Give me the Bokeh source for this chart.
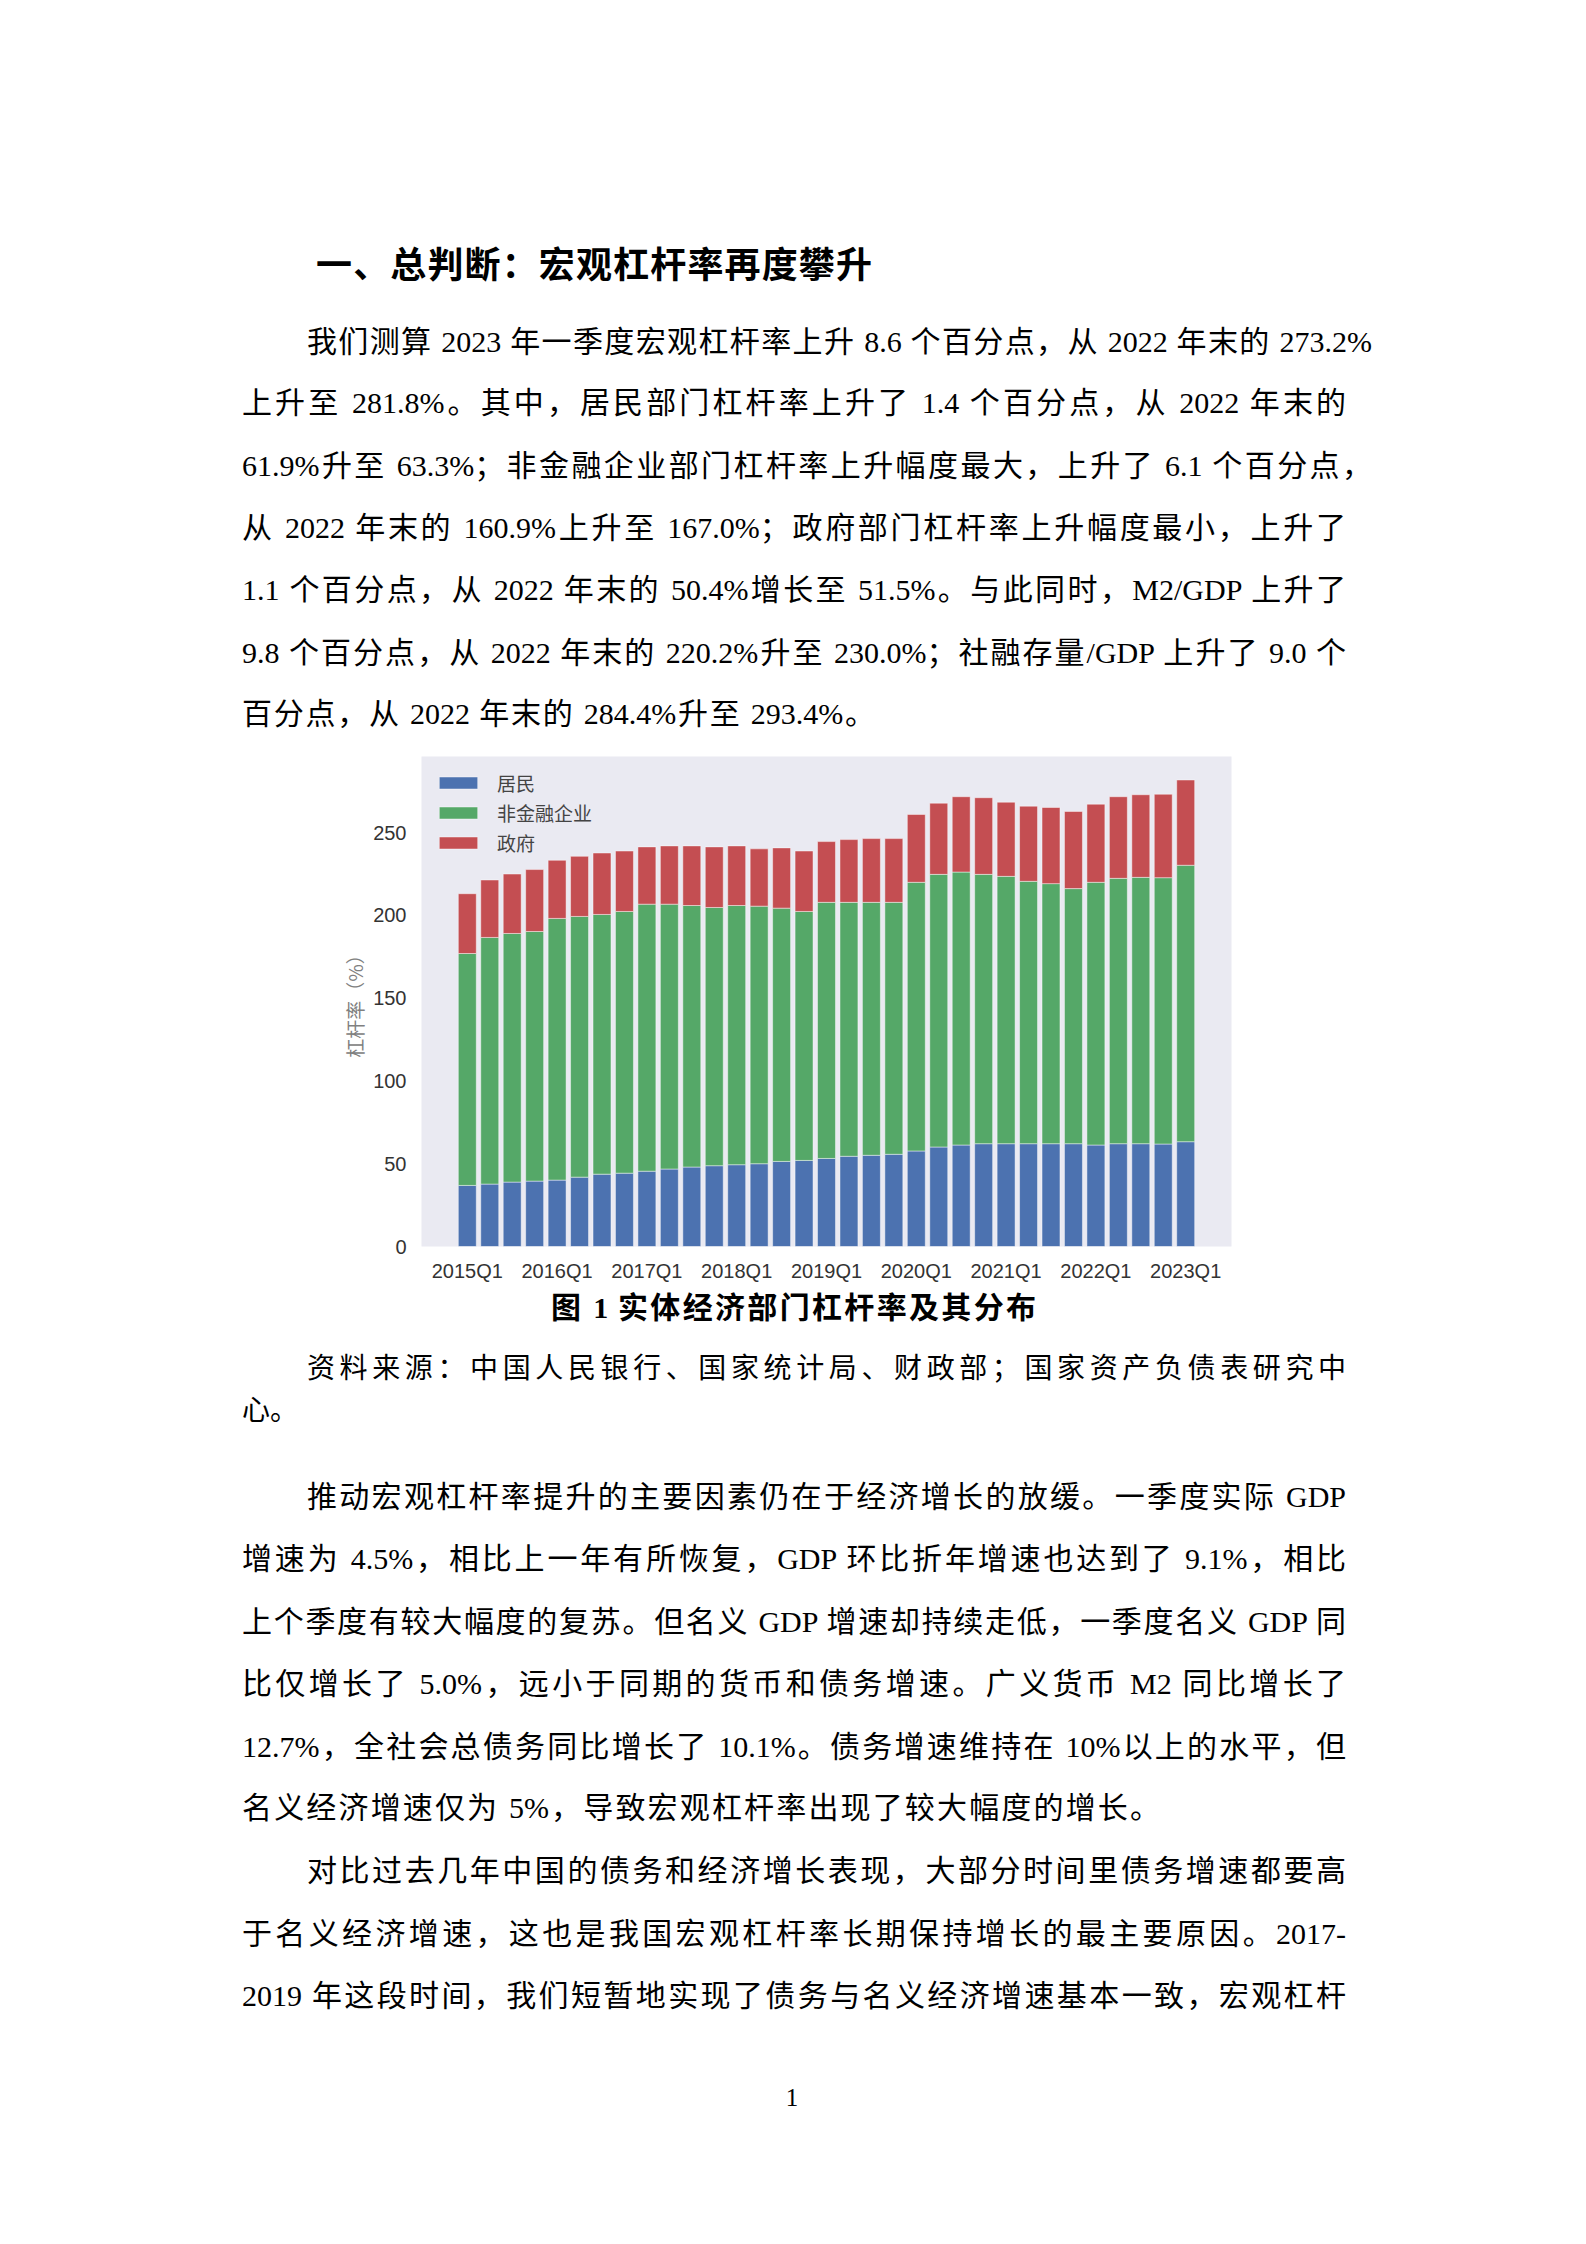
from bokeh.plotting import figure
from bokeh.models import ColumnDataSource, Range1d, FixedTicker, Div
from bokeh.layouts import column
from bokeh.embed import file_html
from bokeh.resources import INLINE

# ---------------- data ----------------
quarters = [f"{y}Q{q}" for y in range(2015, 2023) for q in range(1, 5)] + ["2023Q1"]
household = [36.9, 37.7, 38.9, 39.5, 40.1, 41.9, 43.7, 44.3, 45.5, 46.8, 48.0, 48.8,
             49.4, 50.0, 51.4, 52.0, 53.2, 54.5, 55.1, 55.7, 57.7, 60.1, 61.3, 62.1,
             62.1, 62.1, 62.1, 62.1, 61.3, 62.1, 62.1, 61.9, 63.3]
corporate = [140.1, 149.0, 150.2, 150.8, 158.1, 157.5, 156.9, 158.1, 161.3, 160.0, 158.0, 156.0,
             156.6, 155.6, 153.0, 150.4, 154.7, 153.4, 152.8, 152.2, 162.3, 164.7, 164.9, 162.7,
             161.5, 158.5, 157.1, 154.1, 158.7, 160.3, 160.9, 160.9, 167.0]
government = [36.1, 34.7, 35.9, 37.4, 35.1, 36.3, 37.1, 36.5, 34.6, 35.2, 36.0, 36.6,
              36.0, 34.6, 36.4, 36.5, 36.7, 37.9, 38.5, 38.5, 41.0, 43.0, 45.5, 46.3,
              44.8, 45.4, 46.0, 46.6, 47.2, 49.3, 49.9, 50.4, 51.5]
series_names = ["居民", "非金融企业", "政府"]
series_colors = ["#4C72B0", "#55A868", "#C44E52"]
y_ticks = [0, 50, 100, 150, 200, 250]
x_tick_step = 4

# ---------------- page text ----------------
title_text = "一、总判断：宏观杠杆率再度攀升"
para1 = [
    "我们测算 2023 年一季度宏观杠杆率上升 8.6 个百分点，从 2022 年末的 273.2%",
    "上升至 281.8%。其中，居民部门杠杆率上升了 1.4 个百分点，从 2022 年末的",
    "61.9%升至 63.3%；非金融企业部门杠杆率上升幅度最大，上升了 6.1 个百分点，",
    "从 2022 年末的 160.9%上升至 167.0%；政府部门杠杆率上升幅度最小，上升了",
    "1.1 个百分点，从 2022 年末的 50.4%增长至 51.5%。与此同时，M2/GDP 上升了",
    "9.8 个百分点，从 2022 年末的 220.2%升至 230.0%；社融存量/GDP 上升了 9.0 个",
    "百分点，从 2022 年末的 284.4%升至 293.4%。",
]
caption_text = "图 1  实体经济部门杠杆率及其分布"
source_lines = ["资料来源：中国人民银行、国家统计局、财政部；国家资产负债表研究中", "心。"]
para2 = [
    "推动宏观杠杆率提升的主要因素仍在于经济增长的放缓。一季度实际 GDP",
    "增速为 4.5%，相比上一年有所恢复，GDP 环比折年增速也达到了 9.1%，相比",
    "上个季度有较大幅度的复苏。但名义 GDP 增速却持续走低，一季度名义 GDP 同",
    "比仅增长了 5.0%，远小于同期的货币和债务增速。广义货币 M2 同比增长了",
    "12.7%，全社会总债务同比增长了 10.1%。债务增速维持在 10%以上的水平，但",
    "名义经济增速仅为 5%，导致宏观杠杆率出现了较大幅度的增长。",
]
para3 = [
    "对比过去几年中国的债务和经济增长表现，大部分时间里债务增速都要高",
    "于名义经济增速，这也是我国宏观杠杆率长期保持增长的最主要原因。2017-",
    "2019 年这段时间，我们短暂地实现了债务与名义经济增速基本一致，宏观杠杆",
]
page_number = "1"

BODY_FONT = "'Liberation Serif', 'Noto Sans CJK SC', serif"
SANS_FONT = "'Noto Sans CJK SC', sans-serif"


def line_html(left, right, yc, text, offset, size=30, font=BODY_FONT, weight="normal",
              justify=True, color="#000"):
    lh = int(size * 1.3)
    top = yc - offset - lh / 2
    width = right - left
    align = "justify" if justify else "left"
    return (f'<div style="position:absolute;left:{left}px;top:{top:.1f}px;width:{width}px;'
            f'font-family:{font};font-size:{size}px;font-weight:{weight};line-height:{lh}px;'
            f'color:{color};text-align:{align};text-align-last:{align};">{text}</div>')


TOP_H = 740
FIG_H = 546
BOT_OFF = TOP_H + FIG_H
BOT_H = 2236 - BOT_OFF

top_parts = [line_html(316, 872, 262, title_text, 0, size=36, font=SANS_FONT, weight="bold")]
p1_y = [341, 402, 465, 527, 589, 652, 713]
p1_lr = [(307, 1372), (242, 1346), (242, 1372), (242, 1346), (242, 1346), (242, 1346), (242, 875)]
for (l, r), y, t in zip(p1_lr, p1_y, para1):
    top_parts.append(line_html(l, r, y, t, 0))
top_html = f'<div style="position:relative;width:1570px;height:{TOP_H}px;">' + "".join(top_parts) + "</div>"

bot_parts = [line_html(551, 1036, 1307, caption_text, BOT_OFF, size=30, weight="bold")]
bot_parts.append(line_html(307, 1346, 1369, source_lines[0], BOT_OFF, size=28))
bot_parts.append(line_html(242, 400, 1411, source_lines[1], BOT_OFF, size=28, justify=False))
p2_y = [1496, 1558, 1621, 1683, 1746, 1807]
p2_lr = [(307, 1346)] + [(242, 1346)] * 4 + [(242, 1160)]
for (l, r), y, t in zip(p2_lr, p2_y, para2):
    bot_parts.append(line_html(l, r, y, t, BOT_OFF))
p3_y = [1870, 1933, 1995]
p3_lr = [(307, 1346), (242, 1346), (242, 1346)]
for (l, r), y, t in zip(p3_lr, p3_y, para3):
    bot_parts.append(line_html(l, r, y, t, BOT_OFF))
bot_parts.append(
    f'<div style="position:absolute;left:772px;top:{2098 - BOT_OFF - 16}px;width:40px;'
    f'font-family:{BODY_FONT};font-size:25px;line-height:32px;text-align:center;color:#000;">{page_number}</div>')
bot_html = f'<div style="position:relative;width:1570px;height:{BOT_H}px;">' + "".join(bot_parts) + "</div>"

top_div = Div(text=top_html, width=1570, height=TOP_H, margin=0, styles={"overflow": "visible"})
bot_div = Div(text=bot_html, width=1570, height=BOT_H, margin=0, styles={"overflow": "visible"})

# ---------------- chart ----------------
xs = list(range(len(quarters)))
src = ColumnDataSource(dict(x=xs, quarter=quarters, household=household,
                            corporate=corporate, government=government))

p = figure(width=1570, height=FIG_H, output_backend="svg", toolbar_location=None,
           x_range=Range1d(-2.04, len(quarters) - 1 + 2.04), y_range=Range1d(0, 296),
           min_border_left=421, min_border_right=339, min_border_top=16, min_border_bottom=40,
           background_fill_color="#EAEAF2", border_fill_color="white", outline_line_color=None)

p.vbar_stack(["household", "corporate", "government"], x="x", width=0.8, source=src,
             color=series_colors, line_color="white", line_alpha=0.45, line_width=1,
             legend_label=series_names)

p.xgrid.visible = False
p.ygrid.visible = False

p.xaxis.ticker = FixedTicker(ticks=xs[::x_tick_step])
p.xaxis.major_label_overrides = {i: quarters[i] for i in xs[::x_tick_step]}
p.yaxis.ticker = FixedTicker(ticks=y_ticks)

for ax in (p.xaxis[0], p.yaxis[0]):
    ax.axis_line_color = None
    ax.major_tick_line_color = None
    ax.minor_tick_line_color = None
    ax.major_label_text_font = "Liberation Sans"
    ax.major_label_text_font_size = "20px"
    ax.major_label_text_color = "#333333"

p.xaxis.major_label_standoff = 7
p.yaxis.major_label_standoff = 9
p.yaxis.axis_label = "杠杆率（%）"
p.yaxis.axis_label_text_font = "Noto Sans CJK SC"
p.yaxis.axis_label_text_font_size = "19px"
p.yaxis.axis_label_text_font_style = "normal"
p.yaxis.axis_label_text_color = "#808080"
p.yaxis.axis_label_standoff = 2

lg = p.legend[0]
lg.location = "top_left"
lg.background_fill_alpha = 0
lg.border_line_alpha = 0
lg.label_text_font = "Noto Sans CJK SC"
lg.label_text_font_size = "19px"
lg.label_text_color = "#444444"
lg.glyph_width = 48
lg.glyph_height = 15
lg.label_standoff = 15
lg.spacing = 3
lg.padding = 9
lg.margin = 4
lg.label_height = 24

layout = column(top_div, p, bot_div, spacing=0)

with open("out.html", "w") as f:
    f.write(file_html(layout, INLINE))
